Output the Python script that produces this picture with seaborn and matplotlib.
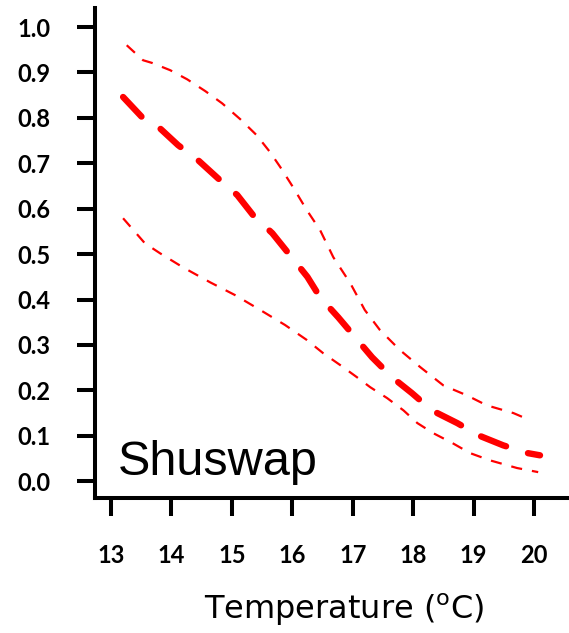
import numpy as np
import pandas as pd
import seaborn as sns
import matplotlib
matplotlib.use("Agg")
import matplotlib.pyplot as plt

# ---- data ----
mean_temp = [13.2, 13.56, 13.81, 14.11, 14.44, 14.77, 15.09, 15.35, 15.67, 15.96,
             16.25, 16.46, 16.76, 17.04, 17.32, 17.65, 17.98, 18.31, 18.73, 19.08,
             19.49, 19.89, 20.1]
mean_prob = [0.846, 0.795, 0.777, 0.74, 0.707, 0.667, 0.63, 0.586, 0.546, 0.498,
             0.45, 0.405, 0.361, 0.317, 0.273, 0.229, 0.194, 0.156, 0.128, 0.101,
             0.079, 0.062, 0.057]

upper_temp = [13.26, 13.53, 13.68, 13.98, 14.26, 14.56, 14.84, 15.14, 15.41, 15.63,
              15.8, 16.01, 16.24, 16.46, 16.68, 16.96, 17.2, 17.45, 17.78, 18.12,
              18.5, 18.89, 19.22, 19.66, 19.94]
upper_prob = [0.96, 0.927, 0.921, 0.905, 0.885, 0.859, 0.832, 0.797, 0.762, 0.725,
              0.692, 0.648, 0.597, 0.553, 0.493, 0.436, 0.377, 0.333, 0.289, 0.251,
              0.211, 0.189, 0.167, 0.15, 0.134]

lower_temp = [13.2, 13.56, 13.81, 14.19, 14.64, 15.05, 15.47, 15.88, 16.24, 16.51,
              16.79, 17.07, 17.29, 17.57, 17.84, 18.07, 18.33, 18.65, 18.94, 19.27,
              19.72, 20.07]
lower_prob = [0.579, 0.524, 0.502, 0.471, 0.438, 0.41, 0.377, 0.344, 0.311, 0.282,
              0.256, 0.229, 0.207, 0.183, 0.156, 0.128, 0.106, 0.084, 0.062, 0.046,
              0.029, 0.02]

x_ticks = [13, 14, 15, 16, 17, 18, 19, 20]
y_ticks = [0.0, 0.1, 0.2, 0.3, 0.4, 0.5, 0.6, 0.7, 0.8, 0.9, 1.0]
panel_label = "Shuswap"
x_label = "Temperature ($^{\\mathrm{o}}$C)"

sns.set_theme(style="ticks")
plt.rcParams["font.family"] = ["Liberation Sans", "DejaVu Sans"]
plt.rcParams["mathtext.fontset"] = "custom"
plt.rcParams["mathtext.rm"] = "DejaVu Sans"

fig = plt.figure(figsize=(5.69, 6.33), dpi=100)
ax = fig.add_axes([95 / 569, 1 - 498 / 633, 1 - 95 / 569, (498 - 8) / 633])

df_mean = pd.DataFrame({"t": mean_temp, "p": mean_prob})
df_up = pd.DataFrame({"t": upper_temp, "p": upper_prob})
df_lo = pd.DataFrame({"t": lower_temp, "p": lower_prob})

red = "#ff0000"
sns.lineplot(data=df_up, x="t", y="p", ax=ax, color=red, lw=1.6, sort=False)
sns.lineplot(data=df_lo, x="t", y="p", ax=ax, color=red, lw=1.6, sort=False)
sns.lineplot(data=df_mean, x="t", y="p", ax=ax, color=red, lw=4.6, sort=False)
lines = ax.get_lines()
for ln in lines[:2]:
    ln.set_dashes([5, 4.5])
    ln.set_dash_capstyle("butt")
lines[2].set_dashes([4.2, 3.6])
lines[2].set_dash_capstyle("round")

ax.set_xlim(12.735, 20.58)
ax.set_ylim(-0.037, 1.042)
ax.set_xticks(x_ticks)
ax.set_xticklabels([str(v) for v in x_ticks])
ax.set_yticks(y_ticks)
ax.set_yticklabels([f"{v:.1f}" for v in y_ticks])

for s in ["top", "right"]:
    ax.spines[s].set_visible(False)
for s in ["left", "bottom"]:
    ax.spines[s].set_linewidth(2.9)
    ax.spines[s].set_color("black")

ax.tick_params(axis="both", length=13, width=2.9, color="black")
ax.tick_params(axis="x", pad=20)
ax.tick_params(axis="y", pad=19)
for lab in ax.get_xticklabels() + ax.get_yticklabels():
    lab.set_fontfamily(["Lato", "DejaVu Sans"])
    lab.set_fontsize(17)
    lab.set_fontweight("bold")
    lab.set_color("black")

ax.set_xlabel("")
ax.set_ylabel("")

ax.text(13.12, 0.013, panel_label, fontsize=35, color="black",
        ha="left", va="baseline", family=["Liberation Sans", "DejaVu Sans"])

fig.text(344 / 569, 1 - 619 / 633, x_label, fontsize=23, ha="center", va="baseline",
         color="black", family=["DejaVu Sans"])

fig.savefig("out.png", dpi=100)
